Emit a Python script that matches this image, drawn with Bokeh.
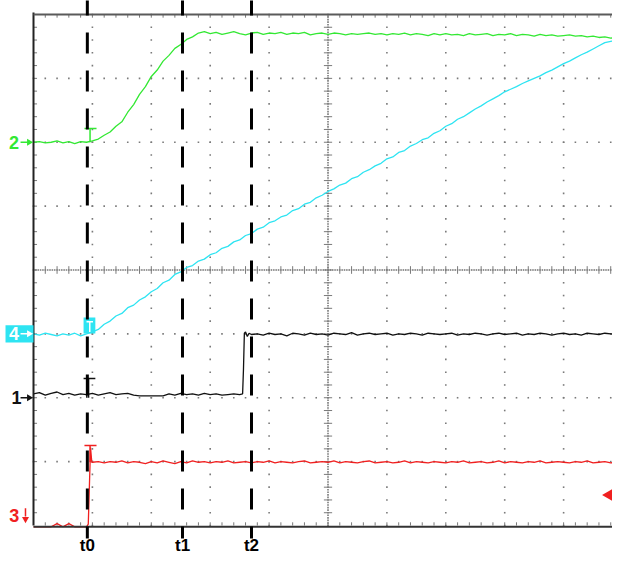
import numpy as np
from bokeh.plotting import figure
from bokeh.models import Range1d
from bokeh.embed import file_html
from bokeh.resources import INLINE
from bokeh.core.properties import value

# ---------------- data (screen divisions: x 0..10, y 0..8) ----------------
t = [round(0.1 * i, 2) for i in range(101)]  # sample clock

ch2_v = [6.00, 6.01, 5.99, 6.00, 6.02, 5.99, 6.01, 5.98, 6.01, 6.00,
         6.02, 6.05, 6.11, 6.16, 6.25, 6.32, 6.47, 6.59, 6.75, 6.87,
         7.03, 7.13, 7.27, 7.36, 7.47, 7.53, 7.61, 7.65, 7.71, 7.73,
         7.70, 7.72, 7.69, 7.71, 7.73, 7.70, 7.68, 7.71, 7.72, 7.69,
         7.71, 7.70, 7.72, 7.69, 7.71, 7.70, 7.72, 7.68, 7.70, 7.71,
         7.69, 7.71, 7.70, 7.68, 7.70, 7.69, 7.70, 7.71, 7.69, 7.70,
         7.68, 7.70, 7.69, 7.71, 7.68, 7.70, 7.69, 7.67, 7.70, 7.68,
         7.70, 7.68, 7.69, 7.67, 7.70, 7.68, 7.69, 7.70, 7.67, 7.69,
         7.68, 7.70, 7.67, 7.69, 7.68, 7.66, 7.69, 7.67, 7.68, 7.66,
         7.67, 7.68, 7.66, 7.67, 7.65, 7.66, 7.64, 7.65, 7.63, 7.64, 7.63]

ch4_v = [3.00, 2.98, 3.01, 2.99, 2.97, 3.00, 2.98, 3.01, 2.97, 3.00,
         3.03, 3.07, 3.15, 3.20, 3.28, 3.32, 3.41, 3.45, 3.53, 3.58,
         3.66, 3.71, 3.80, 3.84, 3.93, 3.97, 4.04, 4.07, 4.14, 4.17,
         4.24, 4.27, 4.34, 4.37, 4.44, 4.47, 4.54, 4.57, 4.64, 4.67,
         4.74, 4.77, 4.83, 4.86, 4.93, 4.96, 5.03, 5.06, 5.13, 5.17,
         5.23, 5.27, 5.33, 5.36, 5.43, 5.46, 5.53, 5.57, 5.63, 5.67,
         5.74, 5.77, 5.84, 5.87, 5.94, 5.98, 6.04, 6.07, 6.14, 6.18,
         6.25, 6.29, 6.36, 6.40, 6.46, 6.52, 6.57, 6.63, 6.68, 6.73,
         6.79, 6.83, 6.87, 6.92, 6.96, 7.00, 7.04, 7.09, 7.13, 7.18,
         7.23, 7.27, 7.32, 7.37, 7.41, 7.46, 7.51, 7.56, 7.58, 7.60, 7.62]

ch1_t = t[:36] + [3.55, 3.565, 3.58, 3.60, 3.63, 3.66, 3.70] + t[38:]
ch1_v = [2.06, 2.08, 2.04, 2.07, 2.09, 2.05, 2.07, 2.04, 2.06, 2.05,
         2.07, 2.04, 2.06, 2.08, 2.05, 2.06, 2.07, 2.04, 2.03, 2.03,
         2.03, 2.03, 2.03, 2.06, 2.04, 2.07, 2.05, 2.06, 2.04, 2.07,
         2.05, 2.06, 2.04, 2.05, 2.06, 2.05,
         2.06, 2.45, 3.01, 3.03, 2.96, 3.01, 2.99,
         3.00, 2.98,
         3.01, 2.99, 3.00, 2.97, 3.01, 3.00, 2.98, 3.01, 2.99, 3.00,
         2.98, 3.01, 3.00, 2.99, 3.02, 2.98, 3.00, 3.01, 2.99, 3.00,
         3.01, 2.98, 3.00, 2.99, 3.01, 3.00, 2.98, 3.01, 3.00, 2.99,
         3.00, 3.01, 2.98, 3.00, 2.99, 3.01, 3.00, 2.98, 3.00, 3.01,
         2.99, 3.00, 3.01, 2.98, 3.00, 2.99, 3.01, 3.00, 2.98, 3.00,
         3.01, 2.99, 3.00, 2.98, 3.01, 3.00, 2.99, 3.01, 3.00, 2.99, 3.00]

ch3_t = t[:10] + [0.93, 0.968, 0.99] + t[10:]
ch3_v = [-0.02, -0.02, -0.02, -0.02, 0.03, -0.02, 0.03, -0.02, -0.02, -0.02,
         0.02, 1.22, 0.99,
         0.99, 1.00, 0.98, 1.00, 0.99, 1.01, 0.98, 1.00, 0.99, 0.97,
         1.00, 0.98, 1.01, 0.99, 0.97, 1.00, 0.98, 1.01, 0.99, 1.00,
         0.98, 1.00, 0.99, 1.01, 0.98, 0.99, 1.00, 0.98, 1.00, 0.99,
         1.01, 0.98, 1.00, 0.99, 0.98, 1.00, 1.01, 0.98, 0.99, 1.00,
         0.99, 1.01, 0.98, 1.00, 0.99, 0.98, 1.00, 1.01, 0.98, 0.99,
         1.00, 0.98, 0.99, 1.01, 0.98, 1.00, 0.99, 0.98, 1.00, 0.99,
         0.98, 1.00, 0.99, 1.01, 0.98, 0.99, 1.00, 0.98, 0.99, 1.01,
         0.98, 1.00, 0.99, 0.98, 1.00, 0.99, 1.01, 0.98, 0.99, 1.00,
         0.99, 0.98, 1.00, 0.99, 1.01, 0.98, 0.99, 1.00, 0.98, 0.99, 1.00]

channel_names = ["2", "4", "1", "3"]
channel_colors = ["#33e833", "#2ee4f2", "#111111", "#f02020"]
channel_marks = [6.0, 3.0, 2.0, 0.157]       # ground-reference markers
trig_levels = [6.0, 3.0, 2.0, 0.99]
trig_tops = [6.215, 3.19, 2.30, 1.252]
trig_level_ch3 = 0.477                        # right-side trigger level

marker_times = [0.914, 2.530, 3.701]
marker_labels = ["t0", "t1", "t2"]

# ---------------- figure ----------------
X0, X1 = -0.5603, 9.830
Y0, Y1 = -0.454, 8.219
p = figure(width=612, height=554, x_range=Range1d(X0, X1), y_range=Range1d(Y0, Y1),
           output_backend="svg", toolbar_location=None, min_border=0,
           x_axis_type=None, y_axis_type=None)
p.grid.visible = False
p.outline_line_color = None
p.background_fill_color = "white"
p.border_fill_color = "white"

dot_c = "#7a7a7a"
# graticule dots
gx, gy = [], []
for i in range(1, 10):
    if i == 5:
        continue
    for k in range(41):
        gx.append(i); gy.append(k * 0.2)
for j in range(1, 8):
    if j == 4:
        continue
    for k in range(51):
        gx.append(k * 0.2); gy.append(j)
# dense centre cross
for k in range(201):
    gx.append(5); gy.append(k * 0.04)
for k in range(251):
    gx.append(k * 0.04); gy.append(4)
p.scatter(gx, gy, marker="square", size=1.6, color=dot_c, line_color=None)

# centre-cross ticks and border ticks
sx0, sy0, sx1, sy1 = [], [], [], []
for k in range(1, 40):
    sx0.append(4.93); sx1.append(5.07); sy0.append(k * 0.2); sy1.append(k * 0.2)
    sx0.append(0.0); sx1.append(0.06); sy0.append(k * 0.2); sy1.append(k * 0.2)
for k in range(1, 50):
    sx0.append(k * 0.2); sx1.append(k * 0.2); sy0.append(3.94); sy1.append(4.06)
    sx0.append(k * 0.2); sx1.append(k * 0.2); sy0.append(0.0); sy1.append(0.05)
    sx0.append(k * 0.2); sx1.append(k * 0.2); sy0.append(7.95); sy1.append(8.0)
p.segment(sx0, sy0, sx1, sy1, line_color=dot_c, line_width=1)

# traces
lw = 1.3
p.line(t, ch2_v, line_color=channel_colors[0], line_width=lw)
p.line(t, ch4_v, line_color=channel_colors[1], line_width=lw)
p.line(ch1_t, ch1_v, line_color=channel_colors[2], line_width=lw)
p.line(ch3_t, ch3_v, line_color=channel_colors[3], line_width=lw)

# frame borders
p.segment([0, 0, 0], [0, 8, -0.02], [0, 10.5, 10.5], [8.03, 8, -0.02],
          line_color=["#222222", "#5a5a5a", "#333333"], line_width=2)

# trigger "T" markers at t0
tx = 0.96
for c, lev, top, name in zip(channel_colors, trig_levels, trig_tops, channel_names):
    if name == "4":
        p.rect(x=[0.95], y=[3.13], width=0.2, height=0.25, fill_color=c, line_color=None)
        p.segment([0.90, 0.955], [top, top], [1.01, 0.955], [top, 3.03],
                  line_color="white", line_width=1.5)
    elif name == "1":
        p.segment([0.85, 0.905, 0.935], [top, top, top], [1.05, 0.905, 0.935], [top, lev, lev],
                  line_color=c, line_width=1.5)
    else:
        p.segment([0.865, tx], [top, top], [1.07, tx], [top, lev],
                  line_color=c, line_width=1.5)

# channel ground markers on the left
p.rect(x=[-0.2377], y=[3.0], width=0.475, height=0.27, fill_color=channel_colors[1], line_color=None)
lab_colors = [channel_colors[0], "white", channel_colors[2], channel_colors[3]]
p.text(x=[-0.33, -0.33, -0.29, -0.325], y=channel_marks, text=channel_names,
       text_color=lab_colors, text_font=value("Liberation Sans"), text_font_style="bold",
       text_font_size="18px", text_align="center", text_baseline="middle")
ry = channel_marks[:3]
p.segment([-0.22] * 3, ry, [-0.10] * 3, ry, line_color=lab_colors[:3], line_width=1.5)
p.scatter([-0.075] * 3, ry, marker="triangle", size=7, angle=-np.pi / 2,
          fill_color=lab_colors[:3], line_color=None)
p.segment([-0.136], [0.27], [-0.136], [0.14], line_color=lab_colors[3], line_width=1.5)
p.scatter([-0.136], [0.10], marker="triangle", size=7, angle=np.pi,
          fill_color=lab_colors[3], line_color=None)

# right-side trigger-level marker (cut by the right edge)
p.scatter([9.78], [trig_level_ch3], marker="triangle", size=13, angle=np.pi / 2,
          fill_color=channel_colors[3], line_color=None)

# time cursors
n = len(marker_times)
p.segment(marker_times, [8.313] * n, marker_times, [-0.2035] * n,
          line_color="black", line_width=3, line_dash="21 17")
p.text(x=marker_times, y=[-0.315] * n, text=marker_labels, text_color="black",
       text_font=value("Liberation Sans"), text_font_style="bold", text_font_size="17px",
       text_align="center", text_baseline="alphabetic")

open("out.html", "w").write(file_html(p, INLINE))
